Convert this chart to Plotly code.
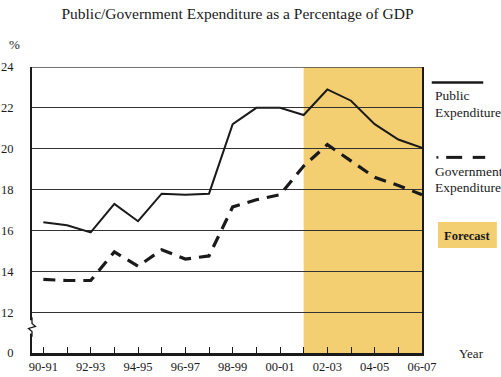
import plotly.graph_objects as go

years = ["90-91", "91-92", "92-93", "93-94", "94-95", "95-96", "96-97", "97-98", "98-99",
         "99-00", "00-01", "01-02", "02-03", "03-04", "04-05", "05-06", "06-07"]
public_exp = [16.4, 16.25, 15.9, 17.3, 16.45, 17.8, 17.75, 17.8, 21.2,
              22.0, 22.0, 21.65, 22.9, 22.35, 21.2, 20.45, 20.05]
gov_exp = [13.6, 13.55, 13.55, 14.95, 14.25, 15.05, 14.6, 14.75, 17.15,
           17.5, 17.75, 19.15, 20.2, 19.4, 18.6, 18.2, 17.75]
forecast_start = "01-02"
y_tickvals = [10, 12, 14, 16, 18, 20, 22, 24]
y_ticktext = ["0", "12", "14", "16", "18", "20", "22", "24"]

FONT = "Liberation Serif"
INK = "#1a1a1a"

xi = list(range(len(years)))
fs = years.index(forecast_start)

fig = go.Figure()
fig.add_trace(go.Scatter(x=xi, y=public_exp, mode="lines",
                         line=dict(color=INK, width=2), showlegend=False))
fig.add_trace(go.Scatter(x=xi, y=gov_exp, mode="lines",
                         line=dict(color=INK, width=3.2, dash="12px,8px"), showlegend=False))

# forecast shading
fig.add_shape(type="rect", xref="x", yref="y", x0=fs, x1=len(years) - 1, y0=10, y1=24,
              fillcolor="#F3CF72", line=dict(width=0), layer="below")
# top border
fig.add_shape(type="line", xref="paper", yref="y", x0=0, x1=1, y0=24, y1=24,
              line=dict(color="#444", width=1.5))
# axis break squiggle
fig.add_shape(type="rect", xref="paper", yref="y", x0=-0.006, x1=0.006, y0=10.95, y1=11.6,
              fillcolor="white", line=dict(width=0), layer="above")
fig.add_shape(type="path", xref="paper", yref="y",
              path="M 0.0,11.75 L 0.0,11.45 L 0.009,11.3 L -0.009,11.2 L 0.0,11.05 L 0.0,10.8",
              line=dict(color=INK, width=1.3), layer="above")

# legend
fig.add_shape(type="line", xref="paper", yref="paper", x0=1.025, x1=1.157, y0=0.946, y1=0.946,
              line=dict(color=INK, width=2.5))
fig.add_shape(type="line", xref="paper", yref="paper", x0=1.037, x1=1.042, y0=0.684, y1=0.684,
              line=dict(color=INK, width=2.5))
fig.add_shape(type="line", xref="paper", yref="paper", x0=1.062, x1=1.103, y0=0.684, y1=0.684,
              line=dict(color=INK, width=3))
fig.add_shape(type="line", xref="paper", yref="paper", x0=1.13, x1=1.162, y0=0.684, y1=0.684,
              line=dict(color=INK, width=3))
fig.add_shape(type="rect", xref="paper", yref="paper", x0=1.041, x1=1.192, y0=0.367, y1=0.458,
              fillcolor="#F3CF72", line=dict(width=0))

ann = [
    dict(text="Public", x=1.027, y=0.902, xanchor="left", yanchor="middle", size=13.5),
    dict(text="Expenditure", x=1.027, y=0.840, xanchor="left", yanchor="middle", size=13.5),
    dict(text="Government", x=1.027, y=0.636, xanchor="left", yanchor="middle", size=13.5),
    dict(text="Expenditure", x=1.027, y=0.577, xanchor="left", yanchor="middle", size=13.5),
    dict(text="<b>Forecast</b>", x=1.1165, y=0.4105, xanchor="center", yanchor="middle", size=12.5),
    dict(text="%", x=-0.045, y=1.08, xanchor="center", yanchor="middle", size=13),
    dict(text="Year", x=1.09, y=-0.0, xanchor="left", yanchor="middle", size=13),
]
for a in ann:
    size = a.pop("size", 12)
    fig.add_annotation(xref="paper", yref="paper", showarrow=False,
                       font=dict(family=FONT, size=size, color=INK), **a)

fig.update_layout(
    width=501, height=377,
    margin=dict(l=32, r=79, t=67, b=24, autoexpand=False),
    paper_bgcolor="white", plot_bgcolor="rgba(0,0,0,0)",
    title=dict(text="Public/Government Expenditure as a Percentage of GDP",
               x=0.474, xanchor="center", y=0.965, yanchor="middle",
               font=dict(family=FONT, size=15.5, color=INK)),
    font=dict(family=FONT, size=12, color=INK),
)
fig.update_xaxes(range=[-0.48, len(years) - 1], tickmode="array", tickvals=xi,
                 ticktext=[y if i % 2 == 0 else "" for i, y in enumerate(years)],
                 ticks="inside", ticklen=6, tickwidth=1.3, tickcolor=INK,
                 showgrid=False, zeroline=False, showline=True, linecolor=INK, linewidth=2.5,
                 automargin=False,
                 tickfont=dict(family=FONT, size=12.5, color=INK))
fig.update_yaxes(range=[10, 24], tickmode="array", tickvals=y_tickvals, ticktext=y_ticktext,
                 ticks="", showgrid=True, gridcolor="#333", gridwidth=1.3, zeroline=False,
                 showline=True, mirror=True, linecolor=INK, linewidth=1.8,
                 ticklabelstandoff=14, automargin=False,
                 tickfont=dict(family=FONT, size=12.5, color=INK))

fig.write_html("out.html", config={"displayModeBar": False},
               post_script="document.body.style.margin='0';document.body.style.padding='0';"
                           "document.documentElement.style.overflow='hidden';")
